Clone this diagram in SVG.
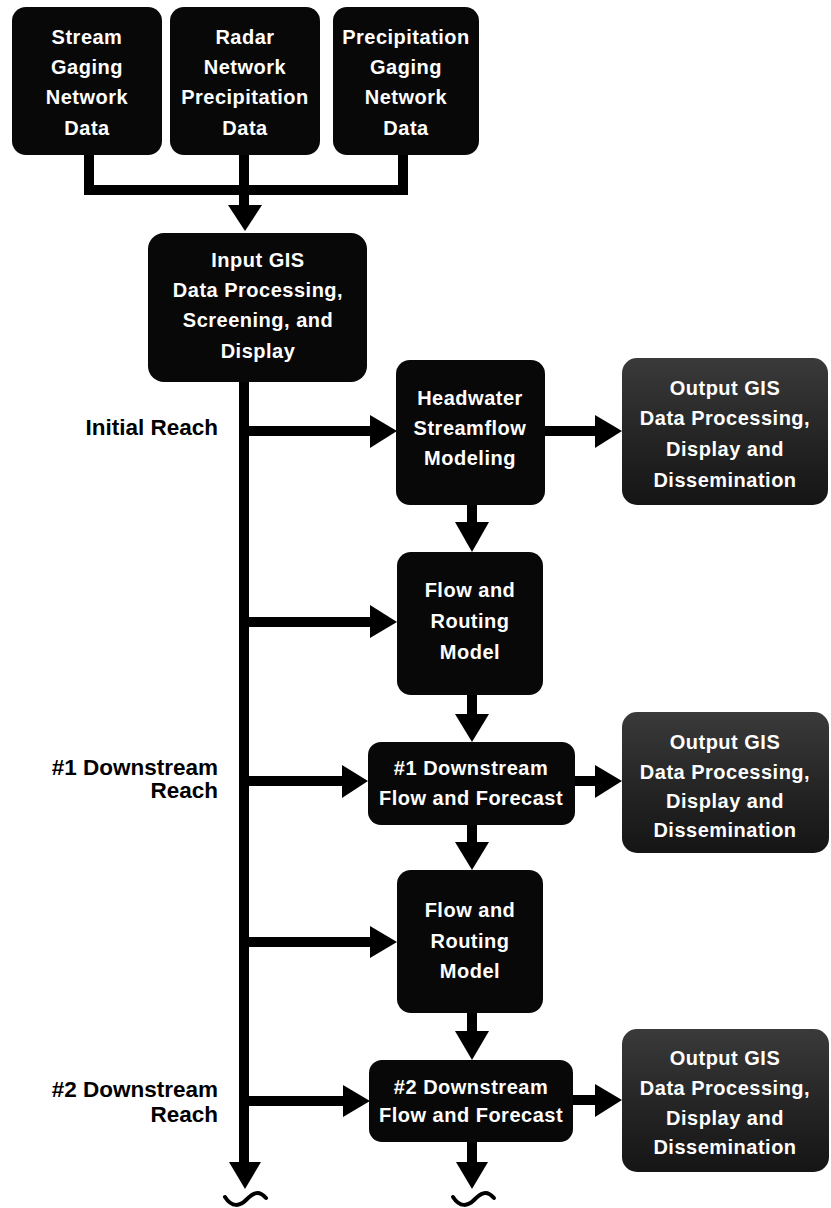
<svg xmlns="http://www.w3.org/2000/svg" width="831" height="1208" viewBox="0 0 831 1208">
<style>
.box{fill:#080808;}
.out{fill:url(#og);}
.t{font-family:"Liberation Sans",Arial,sans-serif;font-weight:bold;font-size:20px;fill:#fff;text-anchor:middle;letter-spacing:0.5px;}
.lbl{font-family:"Liberation Sans",Arial,sans-serif;font-weight:bold;font-size:22.5px;fill:#000;text-anchor:end;}
.ln{stroke:#000;stroke-width:10;fill:none;}
.hd{fill:#000;}
.sq{stroke:#000;stroke-width:4;fill:none;stroke-linecap:round;}
</style>
<defs>
<linearGradient id="og" x1="0" y1="0" x2="0" y2="1">
<stop offset="0" stop-color="#3a3a3a"/>
<stop offset="0.5" stop-color="#262626"/>
<stop offset="1" stop-color="#151515"/>
</linearGradient>
</defs>
<rect width="831" height="1208" fill="#fff"/>

<g id="connectors">
<path class="ln" d="M89,155 V190 M403,155 V190 M84,190 H408 M244,155 V208"/>
<polygon class="hd" points="228,205 262,205 245,231"/>
<line class="ln" x1="244" y1="380" x2="244" y2="1165"/>
<polygon class="hd" points="229,1162 261,1162 245,1189"/>
<path class="sq" d="M225,1197 C232,1208 240,1206 246,1200 S258,1189 266,1198"/>
<path class="ln" d="M244,431 H372 M545,431 H597 M244,622 H372 M244,781 H345 M575,781 H597 M244,942 H372 M244,1101 H345 M573,1100 H597"/>
<polygon class="hd" points="370,415 397,431 370,448"/>
<polygon class="hd" points="595,415 622,431 595,448"/>
<polygon class="hd" points="370,605 397,622 370,638"/>
<polygon class="hd" points="342,765 368,781 342,798"/>
<polygon class="hd" points="595,765 622,781 595,798"/>
<polygon class="hd" points="370,926 397,942 370,958"/>
<polygon class="hd" points="343,1085 370,1101 343,1117"/>
<polygon class="hd" points="595,1084 622,1100 595,1117"/>
<path class="ln" d="M472,505 V525 M472,695 V717 M472,825 V845 M472,1013 V1034 M472,1142 V1165"/>
<polygon class="hd" points="455,522 489,522 472,552"/>
<polygon class="hd" points="455,714 489,714 472,742"/>
<polygon class="hd" points="455,842 489,842 472,870"/>
<polygon class="hd" points="455,1031 489,1031 472,1060"/>
<polygon class="hd" points="456,1162 488,1162 472,1189"/>
<path class="sq" d="M453,1197 C460,1208 468,1206 474,1200 S486,1189 494,1198"/>
</g>

<g id="stream-gaging">
<rect class="box" x="12" y="7" width="150" height="148" rx="14"/>
<text class="t" x="87" y="44">Stream</text>
<text class="t" x="87" y="74">Gaging</text>
<text class="t" x="87" y="104">Network</text>
<text class="t" x="87" y="135">Data</text>
</g>
<g id="radar">
<rect class="box" x="170" y="7" width="150" height="148" rx="14"/>
<text class="t" x="245" y="44">Radar</text>
<text class="t" x="245" y="74">Network</text>
<text class="t" x="245" y="104">Precipitation</text>
<text class="t" x="245" y="135">Data</text>
</g>
<g id="precip-gaging">
<rect class="box" x="333" y="7" width="146" height="148" rx="14"/>
<text class="t" x="406" y="44">Precipitation</text>
<text class="t" x="406" y="74">Gaging</text>
<text class="t" x="406" y="104">Network</text>
<text class="t" x="406" y="135">Data</text>
</g>
<g id="input-gis">
<rect class="box" x="148" y="233" width="219" height="149" rx="16"/>
<text class="t" x="258" y="267">Input GIS</text>
<text class="t" x="258" y="297">Data Processing,</text>
<text class="t" x="258" y="327">Screening, and</text>
<text class="t" x="258" y="358">Display</text>
</g>
<g id="label-initial">
<text class="lbl" x="218" y="435">Initial Reach</text>
</g>
<g id="headwater">
<rect class="box" x="396" y="360" width="149" height="145" rx="14"/>
<text class="t" x="470" y="405">Headwater</text>
<text class="t" x="470" y="435">Streamflow</text>
<text class="t" x="470" y="465">Modeling</text>
</g>
<g id="output-1">
<rect class="out" x="622" y="358" width="206" height="147" rx="15"/>
<text class="t" x="725" y="395">Output GIS</text>
<text class="t" x="725" y="425">Data Processing,</text>
<text class="t" x="725" y="456">Display and</text>
<text class="t" x="725" y="487">Dissemination</text>
</g>
<g id="flow-routing-1">
<rect class="box" x="397" y="552" width="146" height="143" rx="14"/>
<text class="t" x="470" y="597">Flow and</text>
<text class="t" x="470" y="628">Routing</text>
<text class="t" x="470" y="659">Model</text>
</g>
<g id="label-1">
<text class="lbl" x="218" y="775">#1 Downstream</text>
<text class="lbl" x="218" y="798">Reach</text>
</g>
<g id="downstream-1">
<rect class="box" x="368" y="742" width="207" height="83" rx="13"/>
<text class="t" x="471" y="775">#1 Downstream</text>
<text class="t" x="471" y="805">Flow and Forecast</text>
</g>
<g id="output-2">
<rect class="out" x="622" y="712" width="207" height="141" rx="15"/>
<text class="t" x="725" y="749">Output GIS</text>
<text class="t" x="725" y="779">Data Processing,</text>
<text class="t" x="725" y="808">Display and</text>
<text class="t" x="725" y="837">Dissemination</text>
</g>
<g id="flow-routing-2">
<rect class="box" x="397" y="870" width="146" height="143" rx="14"/>
<text class="t" x="470" y="917">Flow and</text>
<text class="t" x="470" y="948">Routing</text>
<text class="t" x="470" y="978">Model</text>
</g>
<g id="label-2">
<text class="lbl" x="218" y="1097">#2 Downstream</text>
<text class="lbl" x="218" y="1122">Reach</text>
</g>
<g id="downstream-2">
<rect class="box" x="369" y="1060" width="204" height="82" rx="13"/>
<text class="t" x="471" y="1094">#2 Downstream</text>
<text class="t" x="471" y="1122">Flow and Forecast</text>
</g>
<g id="output-3">
<rect class="out" x="622" y="1029" width="207" height="143" rx="15"/>
<text class="t" x="725" y="1065">Output GIS</text>
<text class="t" x="725" y="1095">Data Processing,</text>
<text class="t" x="725" y="1125">Display and</text>
<text class="t" x="725" y="1154">Dissemination</text>
</g>
</svg>
